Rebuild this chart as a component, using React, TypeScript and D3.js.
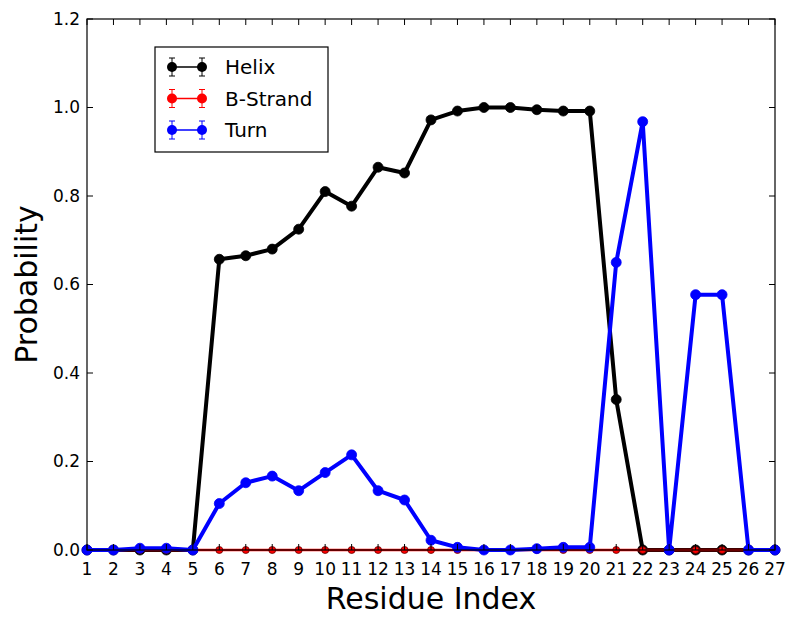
import { useMemo } from "react";
import * as d3 from "d3";

const W = 788;
const H = 620;
const MARGIN = { top: 19, right: 13, bottom: 70, left: 87 };

const residues = d3.range(1, 28);
const helix = [
  0, 0, 0, 0, 0, 0.657, 0.665, 0.68, 0.725, 0.81, 0.777, 0.865, 0.852, 0.972,
  0.992, 1.0, 1.0, 0.995, 0.992, 0.992, 0.34, 0, 0, 0, 0, 0, 0,
];
const strand = [
  0, 0, 0, 0, 0, 0, 0, 0, 0, 0, 0, 0, 0, 0, 0, 0, 0, 0, 0, 0, 0, 0, 0, 0, 0, 0, 0,
];
const turn = [
  0, 0, 0.004, 0.004, 0, 0.105, 0.152, 0.167, 0.134, 0.175, 0.215, 0.134, 0.113,
  0.022, 0.006, 0, 0, 0.003, 0.006, 0.006, 0.65, 0.968, 0, 0.577, 0.577, 0, 0,
];
const yTicks = [0, 0.2, 0.4, 0.6, 0.8, 1.0, 1.2];

const series = [
  { name: "Helix", values: helix, color: "#000000", edge: "#000000", width: 4, r: 5 },
  { name: "B-Strand", values: strand, color: "#ff0000", edge: "#660000", width: 2.5, r: 3.5 },
  { name: "Turn", values: turn, color: "#0000ff", edge: "#0000ff", width: 4, r: 5 },
];

const FONT = "DejaVu Sans, sans-serif";

export default function App() {
  const innerW = W - MARGIN.left - MARGIN.right;
  const innerH = H - MARGIN.top - MARGIN.bottom;

  const { x, y } = useMemo(() => {
    const x = d3.scaleLinear().domain([1, 27]).range([MARGIN.left, MARGIN.left + innerW]);
    const y = d3.scaleLinear().domain([0, 1.2]).range([MARGIN.top + innerH, MARGIN.top]);
    return { x, y };
  }, [innerW, innerH]);

  const line = (vals: number[]) =>
    d3
      .line<number>()
      .x((_, i) => x(residues[i]))
      .y((d) => y(d))(vals) as string;

  const left = MARGIN.left;
  const right = MARGIN.left + innerW;
  const top = MARGIN.top;
  const bottom = MARGIN.top + innerH;

  const legendX = 155;
  const legendY = 47;

  return (
    <svg width={W} height={H} style={{ position: "absolute", left: 0, top: 0, background: "#fff" }}>
      <rect x={0} y={0} width={W} height={H} fill="#fff" />

      {series.map((s) => (
        <g key={s.name}>
          <path d={line(s.values)} fill="none" stroke={s.color} strokeWidth={s.width} strokeLinejoin="round" />
          {s.values.map((v, i) => (
            <circle key={i} cx={x(residues[i])} cy={y(v)} r={s.r} fill={s.color} stroke={s.edge} strokeWidth={0.8} />
          ))}
        </g>
      ))}

      {/* frame */}
      <rect x={left} y={top} width={innerW} height={innerH} fill="none" stroke="#000" strokeWidth={1.2} />

      {/* y ticks */}
      {yTicks.map((t) => (
        <g key={t}>
          <line x1={left} x2={left + 6} y1={y(t)} y2={y(t)} stroke="#000" />
          <line x1={right} x2={right - 6} y1={y(t)} y2={y(t)} stroke="#000" />
          <text x={left - 7} y={y(t)} dy="0.35em" textAnchor="end" fontSize={17} fontFamily={FONT} fill="#000">
            {t.toFixed(1)}
          </text>
        </g>
      ))}

      {/* x ticks */}
      {residues.map((r) => (
        <g key={r}>
          <line x1={x(r)} x2={x(r)} y1={bottom} y2={bottom - 6} stroke="#000" />
          <line x1={x(r)} x2={x(r)} y1={top} y2={top + 6} stroke="#000" />
          <text x={x(r)} y={bottom + 25} textAnchor="middle" fontSize={17} fontFamily={FONT} fill="#000">
            {r}
          </text>
        </g>
      ))}

      <text x={(left + right) / 2} y={609} textAnchor="middle" fontSize={30} fontFamily={FONT} fill="#000">
        Residue Index
      </text>
      <text
        transform={`translate(37, ${(top + bottom) / 2}) rotate(-90)`}
        textAnchor="middle"
        fontSize={30}
        fontFamily={FONT}
        fill="#000"
      >
        Probability
      </text>

      {/* legend */}
      <rect x={legendX} y={legendY} width={173} height={105} fill="#fff" stroke="#000" strokeWidth={1.2} />
      {series.map((s, i) => {
        const ly = legendY + 20 + i * 31.5;
        const x1 = legendX + 17;
        const x2 = legendX + 47;
        return (
          <g key={s.name}>
            <line x1={x1} x2={x2} y1={ly} y2={ly} stroke={s.color} strokeWidth={1.5} />
            {[x1, x2].map((xx) => (
              <g key={xx}>
                <line x1={xx} x2={xx} y1={ly - 9} y2={ly + 9} stroke={s.color} strokeWidth={1} />
                <line x1={xx - 3} x2={xx + 3} y1={ly - 9} y2={ly - 9} stroke={s.color} strokeWidth={1} />
                <line x1={xx - 3} x2={xx + 3} y1={ly + 9} y2={ly + 9} stroke={s.color} strokeWidth={1} />
                <circle cx={xx} cy={ly} r={5} fill={s.color} />
              </g>
            ))}
            <text x={legendX + 70} y={ly} dy="0.35em" fontSize={20} fontFamily={FONT} fill="#000">
              {s.name}
            </text>
          </g>
        );
      })}
    </svg>
  );
}
